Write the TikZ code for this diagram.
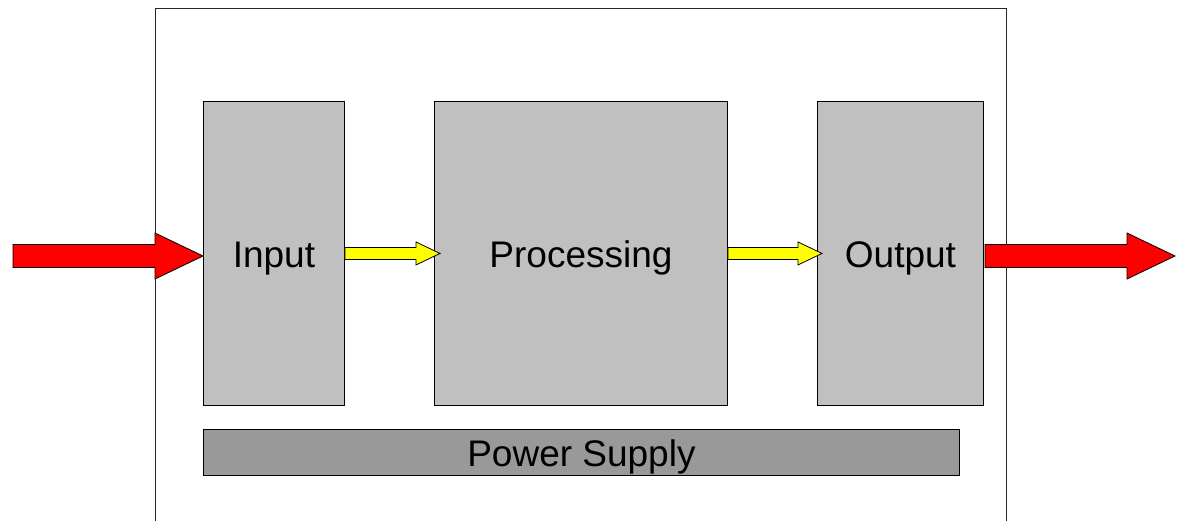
\documentclass[tikz,border=0pt]{standalone}
\usepackage{fontspec}
\setmainfont{Liberation Sans}
\usetikzlibrary{calc}
\definecolor{boxgray}{HTML}{C0C0C0}
\definecolor{psgray}{HTML}{999999}
\definecolor{arrred}{HTML}{FF0000}
\definecolor{arryel}{HTML}{FFFF00}
\tikzset{
  block/.style={draw=black, line width=0.9pt, fill=boxgray, inner sep=0pt, anchor=north west,
    font=\fontsize{37}{42}\selectfont, text height=28pt, text depth=0pt},
  psblock/.style={block, fill=psgray},
  barrow/.style={draw=black, line width=0.8pt, line join=miter}
}
% #1 start, #2 tip, #3 shaft half, #4 head half, #5 head length, #6 colour
\newcommand{\blockarrow}[6]{%
  \path[barrow, fill=#6]
    let \p1=(#1), \p2=(#2) in
    (\x1,\y1+#3) -- (\x2-#5,\y1+#3) -- (\x2-#5,\y1+#4) -- (\x2,\y2)
    -- (\x2-#5,\y1-#4) -- (\x2-#5,\y1-#3) -- (\x1,\y1-#3) -- cycle;}
\begin{document}
\begin{tikzpicture}[x=1pt,y=-1pt]
\useasboundingbox (0,0) rectangle (1184,520);
\begin{scope}
\clip (0,0) rectangle (1184,520);
\coordinate (ob1) at (155,525);
\coordinate (ob2) at (155,8);
\coordinate (ob3) at (1006,8);
\coordinate (ob4) at (1006,525);
\draw[line width=1pt, draw=black!85] (ob1) -- (ob2) -- (ob3) -- (ob4);
\end{scope}
\node[block, minimum width=141pt, minimum height=304pt] (in) at (203,101) {Input};
\node[block, minimum width=293pt, minimum height=304pt] (proc) at (434,101) {Processing};
\node[block, minimum width=166pt, minimum height=304pt] (out) at (817,101) {Output};
\node[psblock, minimum width=756pt, minimum height=46pt] (ps) at (203,429) {Power Supply};
\coordinate (srcL) at (13,256);
\coordinate (inL) at (203,256);
\coordinate (outR) at (985,256);
\coordinate (sinkR) at (1175,256);
\coordinate (procTip) at ($(proc.west)+(6,0)$);
\coordinate (outTip) at ($(out.west)+(5,0)$);
\blockarrow{srcL}{inL}{11.5pt}{23pt}{48pt}{arrred}
\blockarrow{in.east}{procTip}{6pt}{11.5pt}{24pt}{arryel}
\blockarrow{proc.east}{outTip}{6pt}{11.5pt}{24pt}{arryel}
\blockarrow{outR}{sinkR}{11.5pt}{23pt}{48pt}{arrred}
\end{tikzpicture}
\end{document}
